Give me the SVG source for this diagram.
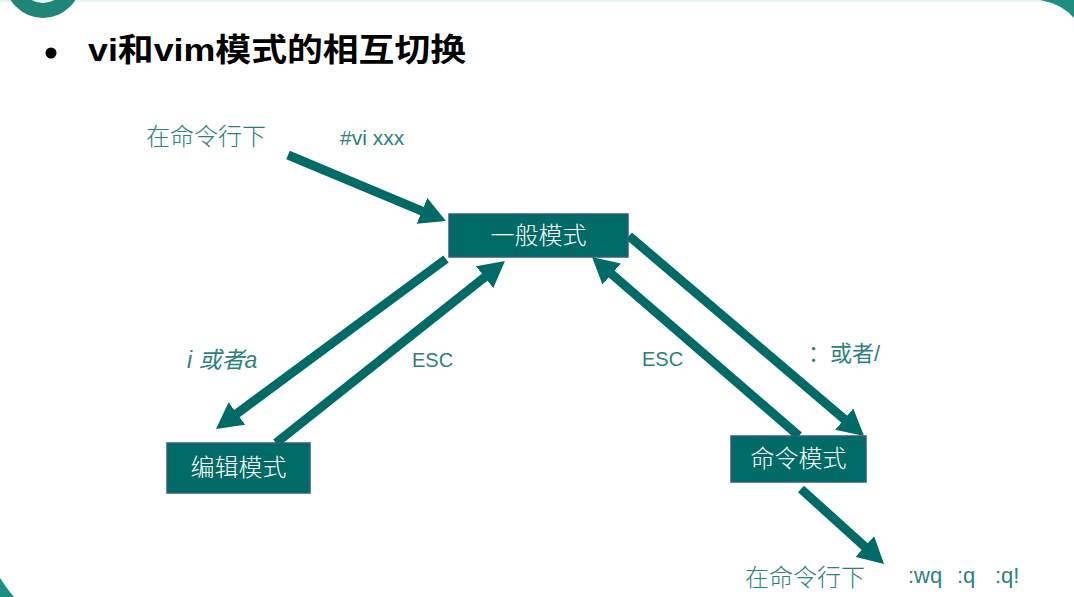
<svg xmlns="http://www.w3.org/2000/svg" width="1074" height="597" viewBox="0 0 1074 597">
  <style>
    .box { fill: #006B66; stroke: #355C7A; stroke-width: 1.5; }
    .boxtext { fill: #FFFFFF; font-family: "Noto Sans CJK SC", sans-serif; font-weight: 300; font-size: 24px; text-anchor: middle; }
    .label { fill: #2C827B; font-family: "Liberation Sans", "Noto Sans CJK SC", sans-serif; font-size: 20px; }
    .label.big { font-size: 22px; }
    .label.mid { font-size: 21px; }
    .label.italic { font-size: 23px; font-style: italic; }
    .cjk { fill: #2C827B; font-family: "Noto Sans CJK SC", sans-serif; font-weight: 300; font-size: 24px; }
    .edge { stroke: #006B66; stroke-width: 9; fill: none; marker-end: url(#head); }
  </style>
  <defs>
    <marker id="head" markerUnits="userSpaceOnUse" viewBox="0 0 26 28" refX="6" refY="14" markerWidth="26" markerHeight="28" orient="auto">
      <path d="M0,0 L26,14 L0,28 z" fill="#006B66"/>
    </marker>
  </defs>

  <!-- slide background and frame accents -->
  <rect width="1074" height="597" fill="#FFFFFF"/>
  <rect x="0" y="0" width="1074" height="2" fill="#E6F4F1"/>
  <circle cx="43" cy="-20" r="30.5" fill="none" stroke="#1E8577" stroke-width="15"/>
  <path d="M1040,0 Q1062,4 1074,18 L1074,0 z" fill="#1E8F80"/>
  <path d="M0,578 Q8,590 14,597 L0,597 z" fill="#1E8F80"/>

  <!-- heading -->
  <g id="title">
    <circle cx="51" cy="53" r="5.5" fill="#000000"/>
    <text x="88" y="61" font-family="'Liberation Sans', 'Noto Sans CJK SC', sans-serif" font-weight="bold" font-size="32" fill="#000000" textLength="378" lengthAdjust="spacingAndGlyphs">vi和vim模式的相互切换</text>
  </g>

  <!-- connectors -->
  <g id="connectors">
    <line class="edge" x1="288" y1="155" x2="427.5" y2="213.3"/>
    <line class="edge" x1="446" y1="259" x2="232.1" y2="417.1"/>
    <line class="edge" x1="276" y1="443" x2="489.3" y2="273.4"/>
    <line class="edge" x1="799" y1="436" x2="607.1" y2="270.1"/>
    <line class="edge" x1="629" y1="236" x2="848.8" y2="423"/>
    <line class="edge" x1="801" y1="489" x2="869.2" y2="550.6"/>
  </g>

  <!-- edge labels and free text -->
  <g id="labels">
    <text class="cjk" x="146" y="145">在命令行下</text>
    <text class="label mid" x="340" y="145">#vi xxx</text>
    <text class="label italic" x="187" y="368">i 或者a</text>
    <text class="label" x="412" y="367">ESC</text>
    <text class="label" x="642" y="366">ESC</text>
    <text class="label big" x="808" y="361">：或者/</text>
    <text class="cjk" x="745" y="586">在命令行下</text>
    <text class="label big" x="908" y="583">:wq</text>
    <text class="label big" x="957" y="583">:q</text>
    <text class="label big" x="995" y="583">:q!</text>
  </g>

  <g id="node-normal">
    <rect class="box" x="449" y="214" width="179" height="43"/>
    <text class="boxtext" x="538.5" y="244">一般模式</text>
  </g>
  <g id="node-insert">
    <rect class="box" x="167" y="443" width="143" height="50"/>
    <text class="boxtext" x="238.5" y="476">编辑模式</text>
  </g>
  <g id="node-command">
    <rect class="box" x="731" y="436" width="135" height="46"/>
    <text class="boxtext" x="798.5" y="467">命令模式</text>
  </g>
</svg>
